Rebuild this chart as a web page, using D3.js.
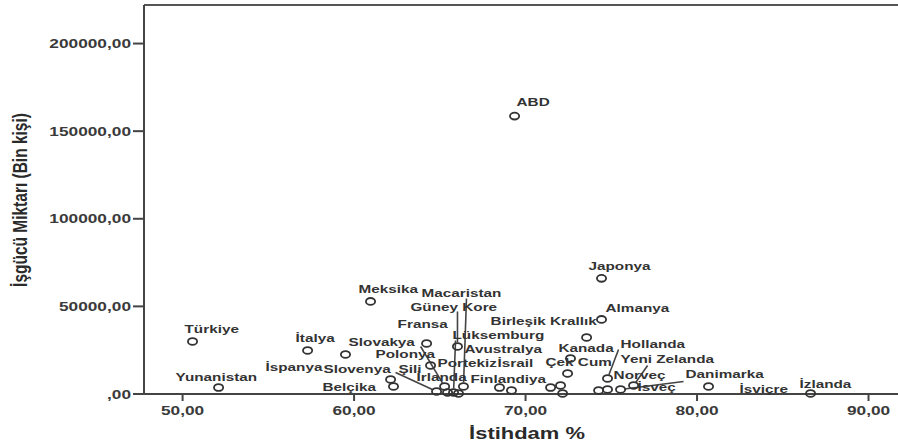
<!DOCTYPE html>
<html lang="tr">
<head>
<meta charset="utf-8">
<style>
  body { margin: 0; background: #fff; }
  svg text { font-family: "Liberation Sans", Arial, sans-serif; font-weight: bold; }
</style>
</head>
<body>
<div id="chart"></div>
<script src="https://d3js.org/d3.v7.min.js"></script>
<script>
// data
var countries = ["ABD", "Japonya", "Almanya", "Meksika", "Türkiye", "İtalya", "İspanya", "Fransa",
  "Güney Kore", "Polonya", "Birleşik Krallık", "Kanada", "Çek Cum", "Şili", "Belçika", "Slovenya",
  "Slovakya", "İrlanda", "Lüksemburg", "Avustralya", "Macaristan", "Portekiz", "Finlandiya", "İsrail",
  "Estonya", "Avusturya", "Norveç", "İsviçre", "Hollanda", "İsveç", "Yeni Zelanda", "Danimarka",
  "Yunanistan", "İzlanda"];
var employment = [69.36, 74.43, 74.43, 60.96, 50.58, 57.29, 59.50, 64.23,
  66.03, 64.46, 73.56, 72.62, 72.45, 62.13, 62.30, 64.81,
  65.28, 65.45, 65.80, 66.09, 66.38, 68.48, 69.18, 71.46,
  72.04, 72.16, 74.26, 74.78, 74.78, 75.54, 76.30, 80.67,
  52.10, 86.62];
var labour = [158600, 66000, 42570, 52850, 30000, 24860, 22570, 28860,
  27140, 16290, 32280, 20280, 11710, 8290, 4290, 1430,
  4290, 860, 860, 290, 4290, 3710, 2000, 3710,
  4860, 290, 2000, 2570, 8860, 2570, 4860, 4290,
  3710, 290];
var xTicks = [50, 60, 70, 80, 90];
var yTicks = [0, 50000, 100000, 150000, 200000];

// label placement (px from the point) and leader lines, SPSS style
var labelShift = {
  "ABD": [2, -14], "Japonya": [-13, -12], "Almanya": [4, -12], "Meksika": [-12, -13],
  "Türkiye": [-8, -13], "İtalya": [-12, -13], "İspanya": [-80, 12], "Fransa": [-29, -20],
  "Güney Kore": [-47, -40], "Polonya": [-55, -12], "Birleşik Krallık": [-96, -17],
  "Kanada": [-12, -11], "Çek Cum": [-22, -12], "Şili": [8, -11], "Belçika": [-71, 0],
  "Slovenya": [-113, -23], "Slovakya": [-96, -45], "İrlanda": [-31, -16],
  "Lüksemburg": [-1, -58], "Avustralya": [6, -45], "Macaristan": [-42, -94],
  "Portekiz": [-62, -25], "Finlandiya": [-41, -12], "İsrail": [-53, -25],
  "Norveç": [15, -16], "İsviçre": [132, -1], "Hollanda": [13, -35], "İsveç": [17, -3],
  "Yeni Zelanda": [-13, -27], "Danimarka": [-23, -13], "Yunanistan": [-43, -11],
  "İzlanda": [-11, -10]
};
var leaders = {
  "Güney Kore": [0, -35], "Slovenya": [-41, -19], "Slovakya": [-24, -40],
  "Lüksemburg": [2, -52], "Macaristan": [3, -88], "Hollanda": [11, -29],
  "Yeni Zelanda": [14, -20], "İsveç": [63, -8]
};

var width = 898, height = 448;
var stretch = 1.33;   // the source picture is squashed wide
var ink = "#333";

var svg = d3.select("#chart").append("svg")
  .attr("width", width).attr("height", height);

var x = d3.scaleLinear().domain([47.75, 91.66]).range([144, 897]);
var y = d3.scaleLinear().domain([0, 222000]).range([394, 5]);

var tr = d3.formatLocale({decimal: ",", thousands: "", grouping: [3], currency: ["", ""]});
var fmt = function(v) { var s = tr.format(".2f")(v); return s.replace(/^0,/, ","); };

// frame
svg.append("line").attr("x1", 144).attr("x2", width).attr("y1", 5).attr("y2", 5)
  .attr("stroke", "#555").attr("stroke-width", 2);
svg.append("line").attr("x1", 144).attr("x2", width).attr("y1", 394).attr("y2", 394)
  .attr("stroke", "#444").attr("stroke-width", 2);
svg.append("line").attr("x1", 144).attr("x2", 144).attr("y1", 5).attr("y2", 395)
  .attr("stroke", "#444").attr("stroke-width", 2);

// y ticks
yTicks.forEach(function(t) {
  svg.append("line").attr("x1", 133).attr("x2", 144).attr("y1", y(t)).attr("y2", y(t))
    .attr("stroke", "#444").attr("stroke-width", 2);
  svg.append("text")
    .attr("transform", "translate(131," + y(t) + ") scale(" + stretch + ",1)")
    .attr("text-anchor", "end").attr("dy", "0.36em")
    .attr("font-size", 13).attr("fill", "#3a3a3a")
    .text(fmt(t));
});

// x ticks
xTicks.forEach(function(t) {
  svg.append("line").attr("x1", x(t)).attr("x2", x(t)).attr("y1", 394).attr("y2", 401)
    .attr("stroke", "#444").attr("stroke-width", 2);
  svg.append("text")
    .attr("transform", "translate(" + x(t) + ",415) scale(" + stretch + ",1)")
    .attr("text-anchor", "middle")
    .attr("font-size", 13).attr("fill", "#3a3a3a")
    .text(fmt(t));
});

// axis titles
svg.append("text")
  .attr("transform", "translate(527,439) scale(" + stretch + ",1)")
  .attr("text-anchor", "middle").attr("font-size", 16.5).attr("fill", "#2a2a2a")
  .text("İstihdam %");
svg.append("text")
  .attr("transform", "translate(27,200) scale(" + stretch + ",1) rotate(-90)")
  .attr("text-anchor", "middle").attr("font-size", 15.5).attr("fill", "#2a2a2a")
  .text("İşgücü Miktarı (Bin kişi)");

var pts = countries.map(function(c, i) {
  return {name: c, px: x(employment[i]), py: y(labour[i])};
});

// leader lines
pts.filter(function(d) { return leaders[d.name]; }).forEach(function(d) {
  var o = leaders[d.name];
  var len = Math.sqrt(o[0] * o[0] + o[1] * o[1]);
  svg.append("line")
    .attr("x1", d.px + o[0]).attr("y1", d.py + o[1])
    .attr("x2", d.px + o[0] / len * 4).attr("y2", d.py + o[1] / len * 4)
    .attr("stroke", "#444").attr("stroke-width", 1.6);
});

// points
svg.selectAll(".pt").data(pts).enter().append("ellipse")
  .attr("class", "pt")
  .attr("cx", function(d) { return d.px; })
  .attr("cy", function(d) { return d.py; })
  .attr("rx", 4.6).attr("ry", 3.4)
  .attr("fill", "none").attr("stroke", "#333").attr("stroke-width", 1.8);

// labels
svg.selectAll(".lab").data(pts.filter(function(d) { return labelShift[d.name]; }))
  .enter().append("text")
  .attr("class", "lab")
  .attr("transform", function(d) {
    var o = labelShift[d.name];
    return "translate(" + (d.px + o[0]) + "," + (d.py + o[1]) + ") scale(" + stretch + ",1)";
  })
  .attr("dy", "0.36em")
  .attr("font-size", 11.5).attr("fill", ink)
  .text(function(d) { return d.name; });
</script>
</body>
</html>
